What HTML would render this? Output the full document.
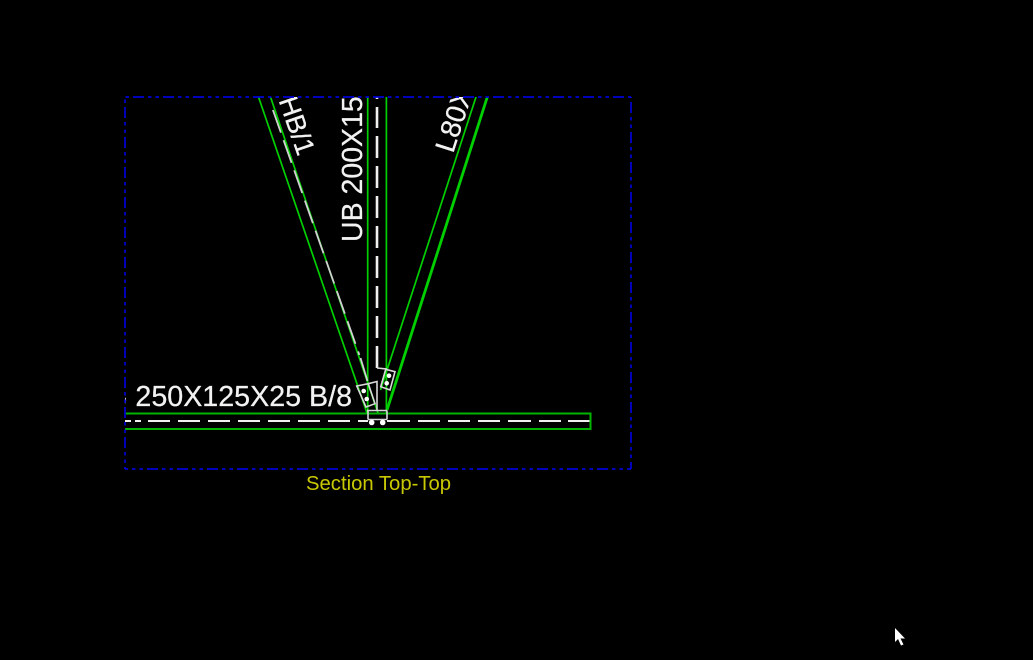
<!DOCTYPE html>
<html><head><meta charset="utf-8"><style>
html,body{margin:0;padding:0;background:#000;width:1033px;height:660px;overflow:hidden}
svg{display:block}
text{font-family:"Liberation Sans",sans-serif}
</style></head><body>
<svg width="1033" height="660" viewBox="0 0 1033 660" xmlns="http://www.w3.org/2000/svg">
<defs><clipPath id="c"><rect x="125" y="97" width="506" height="372"/></clipPath></defs>
<g clip-path="url(#c)">
<g fill="#f2f2f2" stroke="#f2f2f2" stroke-width="0.25">
<text x="362" y="242" font-size="28.5" transform="rotate(-90 362 242)">UB 200X15</text>
<text x="298" y="157" font-size="27" text-anchor="end" transform="rotate(71 298 157)">HB/1</text>
<text x="453" y="154" font-size="28" transform="rotate(-72 453 154)">L80X75</text>
<text x="352" y="406" font-size="28.65" text-anchor="end">UB 250X125X25 B/8</text>
</g>
<!-- centre dashes -->
<g stroke="#f0f0f0" stroke-width="2.6" fill="none">
<path d="M377 107V128M377 136V158M377 166V188M377 196V218M377 226V248M377 256V278M377 286V308M377 316V338M377 346V368M377 97V99"/>
</g>
<g stroke="#f0f0f0" stroke-width="2" fill="none">
<path d="M125 421H131M135 421H141M148 421H170M178 421H200M208 421H230M238 421H260M268 421H290M298 421H320M328 421H350M358 421H368M387 421H410M418 421H440M448 421H470M478 421H500M508 421H531M539 421H561M568 421H590"/>
</g>
<!-- green members -->
<g stroke="#00d000" fill="none">
<path d="M367.700 97V413M386.400 97V413" stroke-width="1.7"/>
<path d="M125 413.500H590.500V429H125" stroke="#00b400" stroke-width="2"/>
<path d="M258.500 97L367 413M270.500 97L378 413" stroke-width="1.7"/>
<path d="M476 97L380.500 390" stroke-width="1.7"/>
<path d="M487.300 97L387 410" stroke-width="2.8"/>
</g>
<path d="M272.900 110L359.400 355M360.500 358L367.500 381" stroke="#d0d0d0" stroke-width="1.8" stroke-dasharray="24 8" fill="none"/>
<!-- connection detail -->
<g stroke="#d8d8d8" stroke-width="1.6" fill="none">
<path d="M356.700 386L368.300 383.700L375 403.700L366 407Z"/>
<path d="M385.700 369.300L395 371.700L390 390L380.700 386.700Z"/>
<path d="M368.300 383.700L377 381.500V410M377 368L387 369"/>
<path d="M367 410.500H387M368 410.500V419.500M387 410.500V419.500M368 419.500H387"/>
</g>
<g fill="#fff">
<circle cx="363.700" cy="391" r="2.300"/><circle cx="366.700" cy="399" r="2.300"/>
<circle cx="389" cy="375.700" r="2.300"/><circle cx="386.700" cy="383.300" r="2.300"/>
<circle cx="371.700" cy="422.500" r="2.800"/><circle cx="382.700" cy="422.500" r="2.800"/>
</g>
</g>
<!-- frame -->
<g stroke="#0000d8" stroke-width="1.7" fill="none" stroke-dasharray="11 4 3.5 4 3.5 4">
<path d="M125 97H631" stroke-dashoffset="-8"/>
<path d="M125 469H631" stroke-dashoffset="-22"/>
<path d="M125 97V469" stroke-dashoffset="-10"/>
<path d="M631 97V469" stroke-dashoffset="-5"/>
</g>
<text x="306" y="490" font-size="20.3" fill="#c8c800">Section Top-Top</text>
<path d="M895 628V642L898 639L901 645.500L903.500 644.500L900.500 638.500H905Z" fill="#fff"/>
</svg>
</body></html>
